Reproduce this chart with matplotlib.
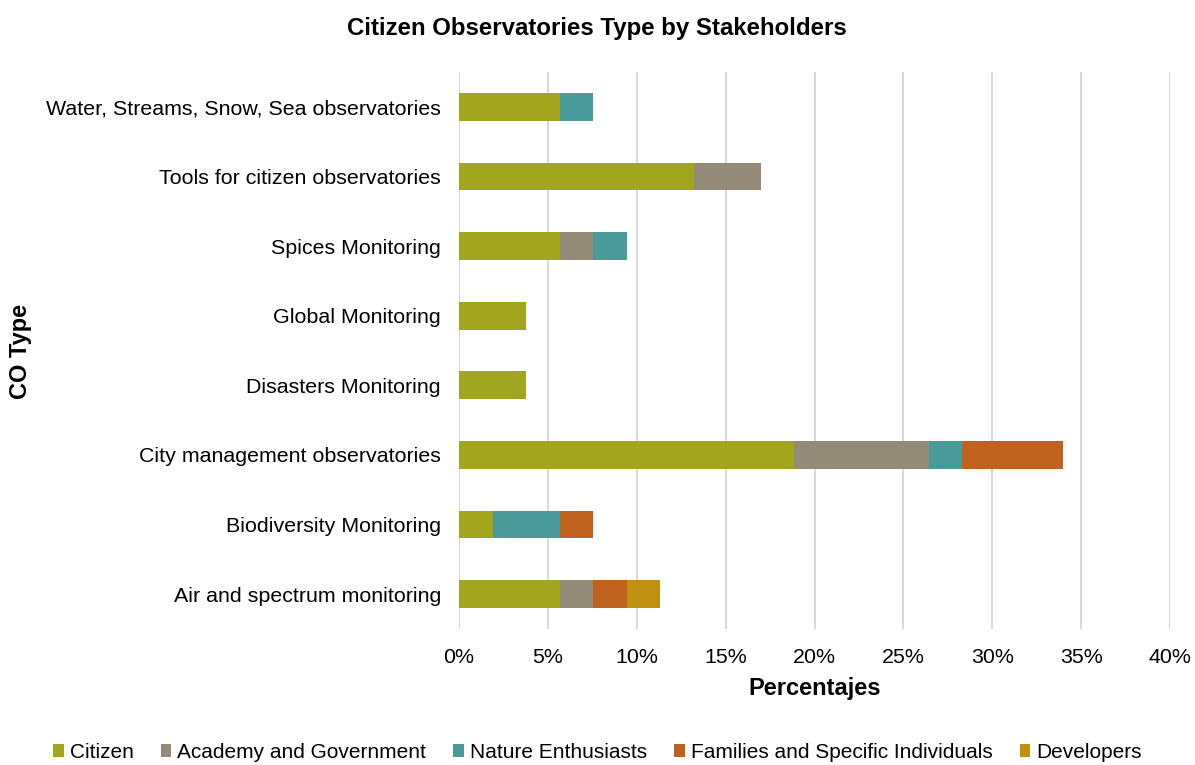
import matplotlib
matplotlib.use("Agg")
import matplotlib.pyplot as plt
import numpy as np
from matplotlib.ticker import FuncFormatter, MultipleLocator

plt.rcParams['font.family'] = ['Liberation Sans', 'DejaVu Sans']

categories = [
    "Air and spectrum monitoring",
    "Biodiversity Monitoring",
    "City management observatories",
    "Disasters Monitoring",
    "Global Monitoring",
    "Spices Monitoring",
    "Tools for citizen observatories",
    "Water, Streams, Snow, Sea observatories",
]

series_names = ["Citizen", "Academy and Government", "Nature Enthusiasts",
                "Families and Specific Individuals", "Developers"]

citizen = [5.66, 1.89, 18.87, 3.77, 3.77, 5.66, 13.21, 5.66]
academy = [1.89, 0.00, 7.55, 0.00, 0.00, 1.89, 3.77, 0.00]
nature = [0.00, 3.77, 1.89, 0.00, 0.00, 1.89, 0.00, 1.89]
families = [1.89, 1.89, 5.66, 0.00, 0.00, 0.00, 0.00, 0.00]
developers = [1.89, 0.00, 0.00, 0.00, 0.00, 0.00, 0.00, 0.00]

colors = ["#A2A61F", "#948A78", "#4A9A9A", "#C0621F", "#BF9012"]

fig = plt.figure(figsize=(11.95, 7.65), dpi=100)
ax = fig.add_axes([459 / 1195, 1 - 629 / 765, (1170 - 459) / 1195, (629 - 72) / 765])

y = np.arange(len(categories))
left = np.zeros(len(categories))
for name, vals, col in zip(series_names, [citizen, academy, nature, families, developers], colors):
    vals = np.array(vals)
    ax.barh(y, vals, left=left, height=0.4, color=col, label=name, zorder=3)
    left += vals

ax.set_xlim(0, 40)
ax.set_ylim(-0.5, len(categories) - 0.5)
ax.set_yticks(y)
ax.set_yticklabels(categories, fontsize=15.4)
ax.xaxis.set_major_locator(MultipleLocator(5))
ax.xaxis.set_major_formatter(FuncFormatter(lambda v, p: f"{v:.0f}%"))
ax.tick_params(axis='x', labelsize=15.4, length=0, pad=14)
ax.tick_params(axis='y', length=0, pad=13)
ax.grid(axis='x', color='#D9D9D9', linewidth=1.5, zorder=0)
for s in ax.spines.values():
    s.set_visible(False)

ax.set_xlabel("Percentajes", fontsize=17, fontweight='bold', labelpad=7)
fig.text(21 / 1195, 1 - 351 / 765, "CO Type", rotation=90, fontsize=17,
         fontweight='bold', ha='center', va='center')
fig.text(597 / 1195, 1 - 28 / 765, "Citizen Observatories Type by Stakeholders",
         fontsize=17.3, fontweight='bold', ha='center', va='center')

handles, labels = ax.get_legend_handles_labels()
fig.legend(handles, labels, loc='center', bbox_to_anchor=(0.5, 1 - 752 / 765),
           ncol=5, frameon=False, fontsize=15, handlelength=0.5, handleheight=0.6,
           handletextpad=0.3, columnspacing=1.3)

fig.savefig("out.png", dpi=100)
